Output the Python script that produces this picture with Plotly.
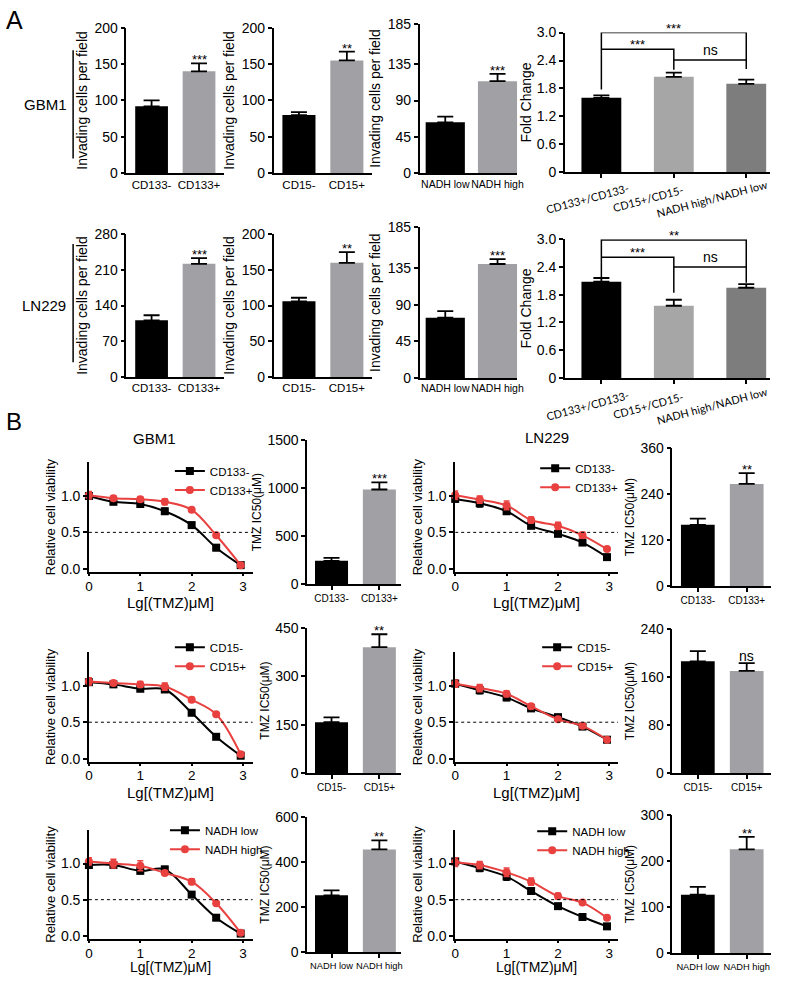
import plotly.graph_objects as go

W, H = 788, 984
FONT = "Liberation Sans, Arial, sans-serif"
BLACK = "#000000"
GRAY = "#a1a1a5"
RED = "#e8413f"

# ---------------- Panel A data ----------------
a_cats = [["CD133-", "CD133+"], ["CD15-", "CD15+"], ["NADH low", "NADH high"]]
a_gbm1_vals = [[92, 140], [80, 155], [63, 114]]
a_gbm1_err = [[8, 11], [4, 12], [7, 9]]
a_gbm1_sig = ["***", "**", "***"]
a_gbm1_ticks = [[0, 50, 100, 150, 200], [0, 50, 100, 150, 200], [0, 45, 90, 135, 185]]

a_ln229_vals = [[111, 222], [106, 160], [74, 140]]
a_ln229_err = [[10, 11], [5, 15], [8, 6]]
a_ln229_sig = ["***", "**", "***"]
a_ln229_ticks = [[0, 70, 140, 210, 280], [0, 50, 100, 150, 200], [0, 45, 90, 135, 185]]

fold_labels = ["CD133+/CD133-", "CD15+/CD15-", "NADH high/NADH low"]
fold_colors = ["#000000", "#a6a6a6", "#7d7d7d"]
fold_gbm1 = [1.60, 2.05, 1.90]
fold_gbm1_err = [0.05, 0.09, 0.09]
fold_ln229 = [2.08, 1.56, 1.95]
fold_ln229_err = [0.08, 0.13, 0.08]
fold_ticks = [0, 0.6, 1.2, 1.8, 2.4, 3.0]
fold_ticktext = ["0", "0.6", "1.2", "1.8", "2.4", "3.0"]
# brackets: (left bar, right bar, level, left drop to, right drop to, label)
fold_gbm1_brackets = [(0, 2, 3.00, 1.78, 2.22, "***"),
                      (0, 1, 2.64, 2.64, 2.20, "***"),
                      (1, 2, 2.41, 2.41, 2.41, "ns")]
fold_ln229_brackets = [(0, 2, 2.98, 2.18, 2.40, "**"),
                       (0, 1, 2.61, 2.61, 1.84, "***"),
                       (1, 2, 2.40, 2.40, 2.06, "ns")]

# ---------------- Panel B data ----------------
lg_conc = [0, 0.477, 1, 1.477, 2, 2.477, 2.954]

gbm1_cd133_neg = [1.00, 0.92, 0.89, 0.79, 0.60, 0.29, 0.05]
gbm1_cd133_neg_err = [0.03, 0.02, 0.02, 0.04, 0.02, 0.04, 0.02]
gbm1_cd133_pos = [1.01, 0.97, 0.955, 0.92, 0.81, 0.46, 0.05]
gbm1_cd133_pos_err = [0.05, 0.03, 0.03, 0.04, 0.02, 0.02, 0.02]

gbm1_cd15_neg = [1.05, 1.02, 0.96, 0.95, 0.63, 0.30, 0.04]
gbm1_cd15_neg_err = [0.04, 0.02, 0.02, 0.02, 0.03, 0.02, 0.01]
gbm1_cd15_pos = [1.06, 1.04, 1.02, 0.99, 0.81, 0.61, 0.06]
gbm1_cd15_pos_err = [0.05, 0.03, 0.04, 0.05, 0.03, 0.02, 0.02]

gbm1_nadh_low = [0.98, 0.98, 0.90, 0.92, 0.57, 0.25, 0.03]
gbm1_nadh_low_err = [0.04, 0.04, 0.04, 0.04, 0.02, 0.02, 0.02]
gbm1_nadh_high = [1.03, 1.00, 0.97, 0.87, 0.75, 0.45, 0.04]
gbm1_nadh_high_err = [0.05, 0.06, 0.07, 0.03, 0.04, 0.02, 0.02]

ln229_cd133_neg = [0.96, 0.90, 0.79, 0.59, 0.48, 0.36, 0.16]
ln229_cd133_neg_err = [0.04, 0.05, 0.03, 0.03, 0.03, 0.02, 0.02]
ln229_cd133_pos = [1.01, 0.95, 0.87, 0.67, 0.59, 0.46, 0.27]
ln229_cd133_pos_err = [0.06, 0.05, 0.06, 0.04, 0.05, 0.04, 0.02]

ln229_cd15_neg = [1.03, 0.94, 0.84, 0.69, 0.57, 0.44, 0.26]
ln229_cd15_neg_err = [0.05, 0.05, 0.04, 0.03, 0.02, 0.03, 0.02]
ln229_cd15_pos = [1.03, 0.97, 0.89, 0.72, 0.54, 0.45, 0.26]
ln229_cd15_pos_err = [0.05, 0.05, 0.04, 0.03, 0.02, 0.03, 0.02]

ln229_nadh_low = [1.03, 0.94, 0.82, 0.62, 0.41, 0.26, 0.13]
ln229_nadh_low_err = [0.04, 0.05, 0.05, 0.04, 0.02, 0.02, 0.02]
ln229_nadh_high = [1.02, 0.98, 0.88, 0.75, 0.55, 0.46, 0.25]
ln229_nadh_high_err = [0.06, 0.05, 0.06, 0.05, 0.04, 0.02, 0.02]

ic50_gbm1_vals = [[245, 985], [158, 390], [252, 455]]
ic50_gbm1_err = [[30, 75], [15, 40], [22, 40]]
ic50_gbm1_sig = ["***", "**", "**"]
ic50_gbm1_ticks = [[0, 500, 1000, 1500], [0, 150, 300, 450], [0, 200, 400, 600]]

ic50_ln229_vals = [[160, 266], [186, 170], [127, 225]]
ic50_ln229_err = [[16, 28], [17, 13], [17, 27]]
ic50_ln229_sig = ["**", "ns", "**"]
ic50_ln229_ticks = [[0, 120, 240, 360], [0, 80, 160, 240], [0, 100, 200, 300]]

# ---------------- helpers ----------------
fig = go.Figure()
layout_axes = {}
shapes = []
annotations = []
counter = [0]


def new_axes(xpx, ypx, xopts, yopts):
    counter[0] += 1
    n = counter[0]
    s = "" if n == 1 else str(n)
    base = dict(showline=True, linecolor="black", linewidth=1.5, showgrid=False,
                zeroline=False, ticks="outside", tickcolor="black", tickwidth=1.5,
                ticklen=4, fixedrange=True, tickangle=0)
    xa = dict(base); xa.update(xopts)
    ya = dict(base); ya.update(yopts)
    xa.update(domain=[xpx[0] / W, xpx[1] / W], anchor="y" + s)
    ya.update(domain=[1 - ypx[1] / H, 1 - ypx[0] / H], anchor="x" + s)
    layout_axes["xaxis" + s] = xa
    layout_axes["yaxis" + s] = ya
    return "x" + s, "y" + s


def bar_panel(xpx, ypx, xrange, cats, vals, errs, colors, yticks, ytitle, sig,
              width, xfont, yfont, tfont, xticks=False, standoff=4, ticktext=None):
    n = len(vals)
    xr, yr = new_axes(
        xpx, ypx,
        dict(range=xrange, tickvals=list(range(n)),
             ticktext=cats if cats else [""] * n, tickfont=dict(size=xfont),
             ticks="outside" if xticks else "", ticklen=4 if xticks else 0),
        dict(range=[0, yticks[-1]], tickvals=yticks,
             ticktext=ticktext if ticktext else [str(t) for t in yticks],
             tickfont=dict(size=yfont),
             title=dict(text=ytitle, font=dict(size=tfont), standoff=standoff)))
    fig.add_trace(go.Bar(
        x=list(range(n)), y=vals, width=width, marker=dict(color=colors, line=dict(width=0)),
        error_y=dict(type="data", array=errs, arrayminus=[0] * n, symmetric=False,
                     color="black", thickness=1.8, width=8),
        xaxis=xr, yaxis=yr, showlegend=False, hoverinfo="skip"))
    if sig:
        annotations.append(dict(x=n - 1, y=vals[-1] + errs[-1], xref=xr, yref=yr,
                                text=sig, showarrow=False, yanchor="bottom",
                                yshift=-6 if "*" in sig else -3,
                                font=dict(size=13 if "*" in sig else 14)))
    return xr, yr


def curve_panel(xpx, ypx, xmax, series, legend_name, title_y, title_size):
    xr, yr = new_axes(
        xpx, ypx,
        dict(range=[0, xmax], tickvals=[0, 1, 2, 3], tickfont=dict(size=13.5), ticklen=3,
             ticklabelstandoff=-2),
        dict(range=[-0.04, 1.46], tickvals=[0, 0.5, 1.0], ticktext=["0.0", "0.5", "1.0"],
             tickfont=dict(size=14),
             title=dict(text="Relative cell viability", font=dict(size=13), standoff=2)))
    for name, vals, errs, color, symbol in series:
        fig.add_trace(go.Scatter(
            x=lg_conc, y=vals, name=name, mode="lines+markers",
            line=dict(color=color, width=2, shape="spline", smoothing=1.0),
            marker=dict(color=color, symbol=symbol, size=8),
            error_y=dict(type="data", array=errs, color=color, thickness=1.5, width=3),
            xaxis=xr, yaxis=yr, legend=legend_name, cliponaxis=False, hoverinfo="skip"))
    shapes.append(dict(type="line", xref=xr, yref=yr, x0=0, x1=xmax, y0=0.5, y1=0.5,
                       line=dict(color="black", width=1, dash="dot")))
    annotations.append(dict(x=0.5, y=1 - title_y / H, xref=xr + " domain", yref="paper",
                            text="Lg[(TMZ)μM]", showarrow=False, xanchor="center",
                            yanchor="middle", borderpad=0, font=dict(size=title_size)))
    return xr, yr


# ---------------- Panel A ----------------
a_x = [(124, 223, [-0.53, 1.53], 0.69, 11.5), (273, 373, [-0.53, 1.53], 0.69, 11.5),
       (421, 520, [-0.49, 1.38], 0.75, 10.5)]
a_rows = [
    ((20, 168), (20, 168), (16, 168), a_gbm1_vals, a_gbm1_err, a_gbm1_sig, a_gbm1_ticks),
    ((230, 375), (230, 375), (223, 376), a_ln229_vals, a_ln229_err, a_ln229_sig, a_ln229_ticks),
]
for row in a_rows:
    for i in range(3):
        xpx0, xpx1, xrg, wd, xf = a_x[i]
        bar_panel((xpx0, xpx1), row[i], xrg, a_cats[i], row[3][i], row[4][i], [BLACK, GRAY],
                  row[6][i], "Invading cells per field", row[5][i], wd, xf, 14, 14)

fold_rows = [((25, 167), fold_gbm1, fold_gbm1_err, fold_gbm1_brackets, 194),
             ((235, 376), fold_ln229, fold_ln229_err, fold_ln229_brackets, 404)]
fold_label_shift = [-14, -26, -34]
for ypx, vals, errs, brackets, label_y in fold_rows:
    xr, yr = bar_panel((568, 776), ypx, [-0.505, 2.33], None, vals, errs, fold_colors,
                       fold_ticks, "Fold Change", None, 0.55, 11, 14, 14, xticks=True,
                       standoff=2, ticktext=fold_ticktext)
    for i, lab in enumerate(fold_labels):
        annotations.append(dict(x=i, y=1 - label_y / H, xref=xr, yref="paper", text=lab,
                                showarrow=False, textangle=-15, xshift=fold_label_shift[i],
                                xanchor="center", yanchor="middle",
                                font=dict(size=11, family="Lato, Open Sans, sans-serif")))
    for (b0, b1, lev, d0, d1, txt) in brackets:
        shapes.append(dict(type="path", xref=xr, yref=yr,
                           path=f"M {b0},{d0} L {b0},{lev} L {b1},{lev} L {b1},{d1}",
                           line=dict(color="black", width=1.5)))
        annotations.append(dict(x=(b0 + b1) / 2, y=lev, xref=xr, yref=yr, text=txt,
                                showarrow=False, yanchor="bottom",
                                yshift=-5 if "*" in txt else 0,
                                font=dict(size=13 if "*" in txt else 14)))

# ---------------- Panel B ----------------
curve_sets = [
    [("CD133-", gbm1_cd133_neg, gbm1_cd133_neg_err, BLACK, "square"),
     ("CD133+", gbm1_cd133_pos, gbm1_cd133_pos_err, RED, "circle")],
    [("CD133-", ln229_cd133_neg, ln229_cd133_neg_err, BLACK, "square"),
     ("CD133+", ln229_cd133_pos, ln229_cd133_pos_err, RED, "circle")],
    [("CD15-", gbm1_cd15_neg, gbm1_cd15_neg_err, BLACK, "square"),
     ("CD15+", gbm1_cd15_pos, gbm1_cd15_pos_err, RED, "circle")],
    [("CD15-", ln229_cd15_neg, ln229_cd15_neg_err, BLACK, "square"),
     ("CD15+", ln229_cd15_pos, ln229_cd15_pos_err, RED, "circle")],
    [("NADH low", gbm1_nadh_low, gbm1_nadh_low_err, BLACK, "square"),
     ("NADH high", gbm1_nadh_high, gbm1_nadh_high_err, RED, "circle")],
    [("NADH low", ln229_nadh_low, ln229_nadh_low_err, BLACK, "square"),
     ("NADH high", ln229_nadh_high, ln229_nadh_high_err, RED, "circle")],
]
curve_y = [(462, 573), (655, 766), (836, 946)]
curve_title_y = [604, 797, 975]
curve_title_size = [15, 15, 14]
legend_pos = [(168, 456), (538, 453), (168, 635), (540, 635), (163, 821), (535, 822)]
legend_names = ["legend", "legend2", "legend3", "legend4", "legend5", "legend6"]
legend_layout = {}
for k in range(6):
    r, c = divmod(k, 2)
    if c == 0:
        curve_panel((86, 252), curve_y[r], 3.19, curve_sets[k], legend_names[k],
                    curve_title_y[r], curve_title_size[r])
    else:
        curve_panel((457, 622), curve_y[r], 3.17, curve_sets[k], legend_names[k],
                    curve_title_y[r], curve_title_size[r])
    lx, ly = legend_pos[k]
    legend_layout[legend_names[k]] = dict(x=lx / W, y=1 - ly / H, xanchor="left", yanchor="top",
                                          bgcolor="rgba(0,0,0,0)", font=dict(size=11.5),
                                          itemwidth=30, tracegroupgap=0)

ic50_gbm1_y = [(439, 586), (630, 778), (822, 960)]
ic50_ln229_y = [(447, 588), (631, 778), (820, 961)]
ic50_xfont = [10, 10, 9.3]
for r in range(3):
    bar_panel((307, 402), ic50_gbm1_y[r], [-0.51, 1.45], a_cats[r], ic50_gbm1_vals[r],
              ic50_gbm1_err[r], [BLACK, GRAY], ic50_gbm1_ticks[r], "TMZ IC50(μM)",
              ic50_gbm1_sig[r], 0.69, ic50_xfont[r], 14, 12, xticks=True, standoff=3)
    bar_panel((677, 777), ic50_ln229_y[r], [-0.52, 1.5], a_cats[r], ic50_ln229_vals[r],
              ic50_ln229_err[r], [BLACK, GRAY], ic50_ln229_ticks[r], "TMZ IC50(μM)",
              ic50_ln229_sig[r], 0.69, ic50_xfont[r], 14, 12, xticks=True, standoff=3)

# ---------------- labels ----------------
def paper_text(x, y, text, size, xanchor="center"):
    annotations.append(dict(x=x / W, y=1 - y / H, xref="paper", yref="paper", text=text,
                            showarrow=False, xanchor=xanchor, yanchor="middle",
                            font=dict(size=size)))

paper_text(0, 12, "A", 25, "left")
paper_text(0, 420, "B", 24, "left")
paper_text(42, 98, "GBM1", 15)
paper_text(41, 302, "LN229", 15)
paper_text(152, 438, "GBM1", 15)
paper_text(550, 437, "LN229", 15)
for y0, y1 in [(43, 153), (240, 360)]:
    shapes.append(dict(type="line", xref="paper", yref="paper", x0=70 / W, x1=70 / W,
                       y0=1 - y0 / H, y1=1 - y1 / H, line=dict(color="black", width=1.5)))

fig.update_layout(
    width=W, height=H, autosize=False, margin=dict(l=0, r=0, t=0, b=0),
    paper_bgcolor="white", plot_bgcolor="white",
    font=dict(family=FONT, color="black"),
    showlegend=True, shapes=shapes, annotations=annotations,
    **layout_axes, **legend_layout)

fig.write_html("out.html", config={"displayModeBar": False},
               post_script="document.body.style.margin='0px';")
